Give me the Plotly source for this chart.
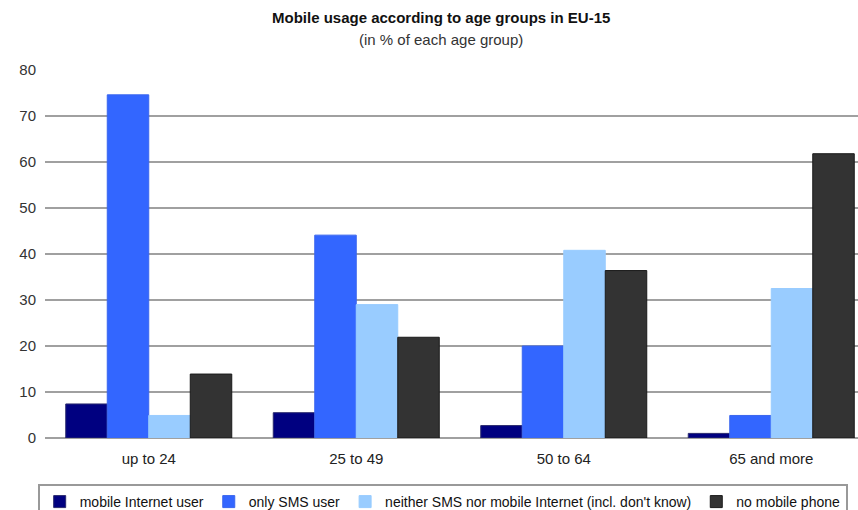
import plotly.graph_objects as go

# Age groups on the x axis
age_groups = ["up to 24", "25 to 49", "50 to 64", "65 and more"]

# Share of each age group (in %)
mobile_internet = [7.4, 5.5, 2.7, 1.0]
only_sms = [74.6, 44.1, 20.0, 4.9]
neither = [4.9, 29.0, 40.8, 32.5]
no_phone = [13.9, 21.9, 36.4, 61.8]

series_names = [
    "mobile Internet user",
    "only SMS user",
    "neither SMS nor mobile Internet (incl. don't know)",
    "no mobile phone",
]
series_values = [mobile_internet, only_sms, neither, no_phone]
series_colors = ["#000080", "#3366FF", "#99CCFF", "#333333"]
outline_colors = ["#2a2a6e", "#3a66ee", "#99CCFF", "#1a1a1a"]

y_ticks = [0, 10, 20, 30, 40, 50, 60, 70, 80]

FONT = "Liberation Sans, Arial, sans-serif"

fig = go.Figure()
for name, vals, col, lc in zip(series_names, series_values, series_colors, outline_colors):
    fig.add_trace(go.Bar(
        x=age_groups, y=vals, name=name,
        marker=dict(color=col, line=dict(color=lc, width=1)),
    ))

fig.update_layout(
    width=858, height=510,
    margin=dict(l=45, r=0, t=70, b=72, autoexpand=False),
    paper_bgcolor="white", plot_bgcolor="white",
    barmode="group", bargap=0.2, bargroupgap=0,
    font=dict(family=FONT, size=14, color="#222"),
    showlegend=True,
    legend=dict(
        orientation="h", x=-0.009, xanchor="left", y=-0.125, yanchor="top",
        bordercolor="#999", borderwidth=2, bgcolor="white",
        font=dict(family=FONT, size=14, color="#111"),
        traceorder="normal", itemwidth=30,
    ),
    xaxis=dict(
        range=[-0.5, 3.418], showgrid=False, showline=False, ticks="",
        tickfont=dict(family=FONT, size=15, color="#222"),
        ticklabelstandoff=10,
    ),
    yaxis=dict(
        range=[0, 80], tickvals=y_ticks, showgrid=True,
        gridcolor="#a0a0a0", gridwidth=2,
        zeroline=True, zerolinecolor="#a0a0a0", zerolinewidth=2,
        showline=False, ticks="",
        tickfont=dict(family=FONT, size=15, color="#333"),
        ticklabelstandoff=8,
    ),
    annotations=[
        dict(text="<b>Mobile usage according to age groups in EU-15</b>",
             xref="paper", yref="paper", x=0.487, y=1.144,
             xanchor="center", yanchor="middle", showarrow=False,
             font=dict(family=FONT, size=15, color="#111")),
        dict(text="(in % of each age group)",
             xref="paper", yref="paper", x=0.487, y=1.084,
             xanchor="center", yanchor="middle", showarrow=False,
             font=dict(family=FONT, size=15, color="#333")),
    ],
)

fig.write_html("out.html")
